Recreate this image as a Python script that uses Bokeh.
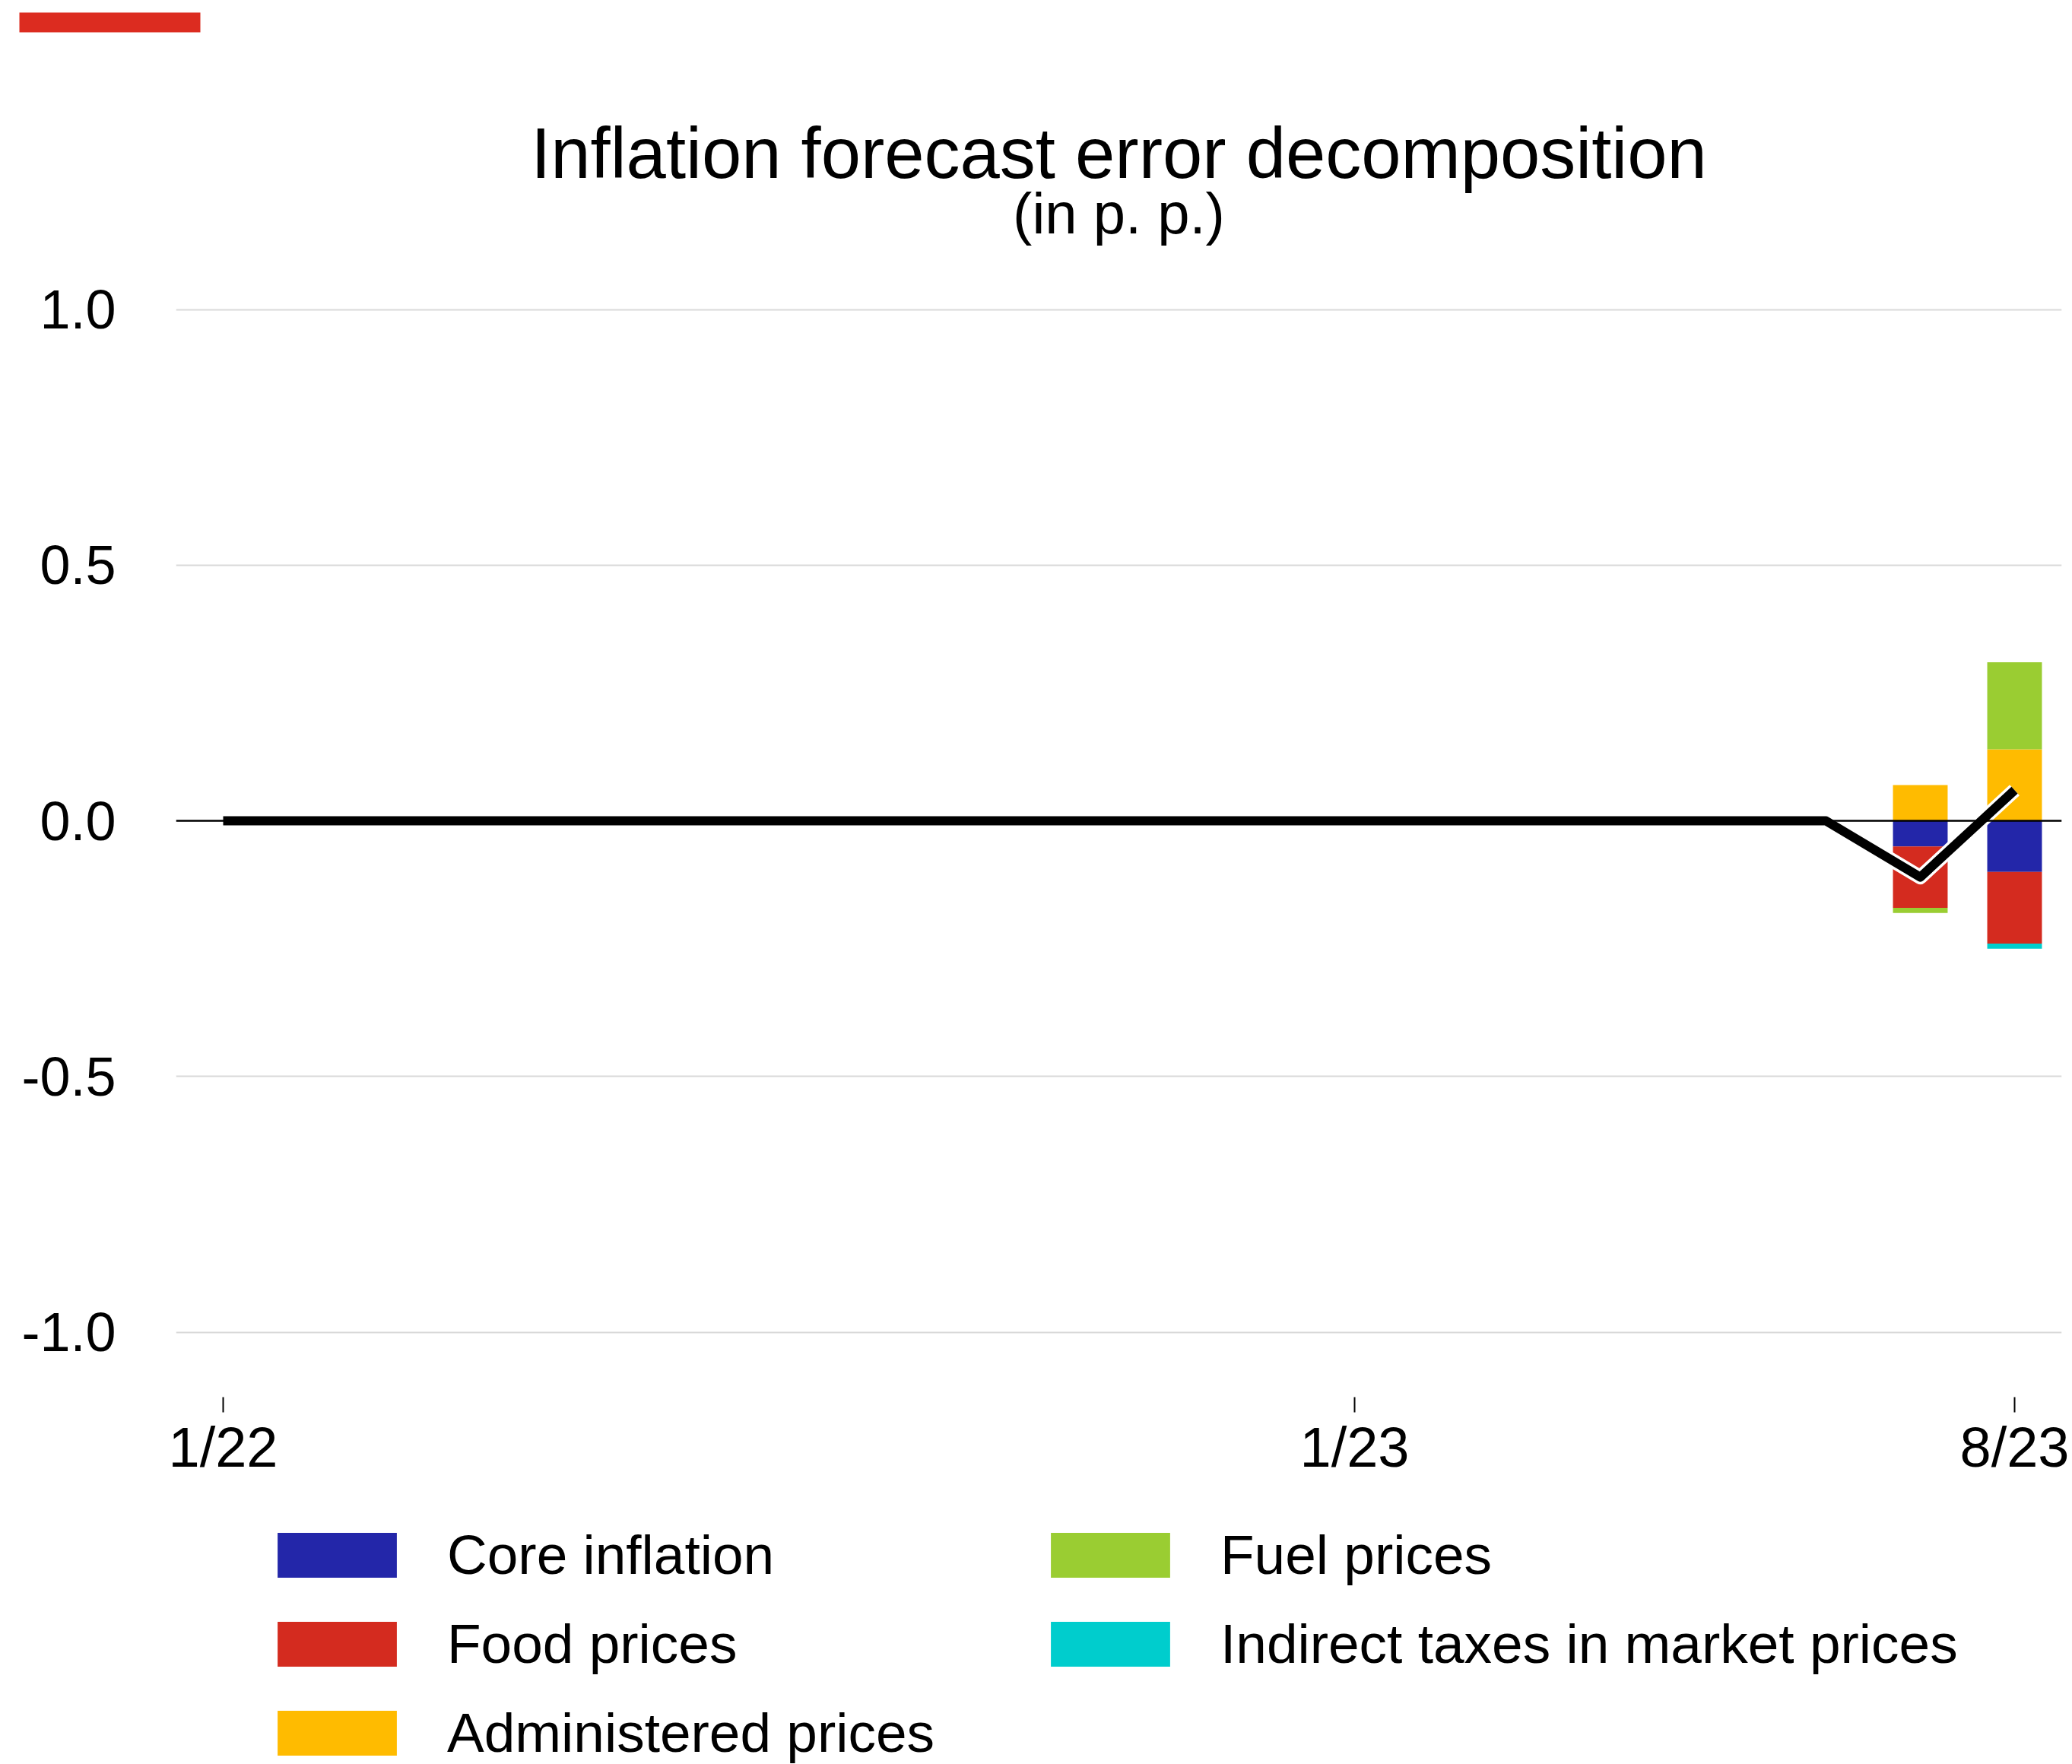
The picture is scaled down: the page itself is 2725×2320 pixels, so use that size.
import numpy as np
from bokeh.plotting import figure
from bokeh.layouts import column
from bokeh.models import (ColumnDataSource, FixedTicker, Span, Legend, LegendItem, Range1d)
from bokeh.core.properties import value
from bokeh.embed import file_html
from bokeh.resources import INLINE

# ---- data (percentage points) ----
months = ["1/22", "2/22", "3/22", "4/22", "5/22", "6/22", "7/22", "8/22", "9/22", "10/22",
          "11/22", "12/22", "1/23", "2/23", "3/23", "4/23", "5/23", "6/23", "7/23", "8/23"]
core_inflation = [0, 0, 0, 0, 0, 0, 0, 0, 0, 0, 0, 0, 0, 0, 0, 0, 0, 0, -0.05, -0.10]
food_prices = [0, 0, 0, 0, 0, 0, 0, 0, 0, 0, 0, 0, 0, 0, 0, 0, 0, 0, -0.12, -0.14]
administered_prices = [0, 0, 0, 0, 0, 0, 0, 0, 0, 0, 0, 0, 0, 0, 0, 0, 0, 0, 0.07, 0.14]
fuel_prices = [0, 0, 0, 0, 0, 0, 0, 0, 0, 0, 0, 0, 0, 0, 0, 0, 0, 0, -0.01, 0.17]
indirect_taxes = [0, 0, 0, 0, 0, 0, 0, 0, 0, 0, 0, 0, 0, 0, 0, 0, 0, 0, 0.0, -0.01]
forecast_error = [0, 0, 0, 0, 0, 0, 0, 0, 0, 0, 0, 0, 0, 0, 0, 0, 0, 0, -0.11, 0.06]

series_names = ["Core inflation", "Food prices", "Administered prices",
                "Fuel prices", "Indirect taxes in market prices"]
series_values = [core_inflation, food_prices, administered_prices, fuel_prices, indirect_taxes]
series_colors = ["#2326a9", "#d42b1f", "#ffbb00", "#9acd32", "#00cdcd"]

x_tick_labels = ["1/22", "1/23", "8/23"]
y_ticks = [-1.0, -0.5, 0.0, 0.5, 1.0]

TITLE = "Inflation forecast error decomposition"
SUBTITLE = "(in p. p.)"

# ---- page geometry (pixels) ----
W = 2725
HEADER_H = 340
MAIN_H = 1650
FOOTER_H = 330
FRAME_LEFT, FRAME_RIGHT, FRAME_BOTTOM = 231, 2711, 1497   # main plot frame, main-canvas pixels
SANS = "Liberation Sans"


def blank(height, **kw):
    f = figure(width=W, height=height, output_backend="svg", toolbar_location=None,
               x_axis_type=None, y_axis_type=None, **kw)
    f.outline_line_color = None
    f.xgrid.grid_line_color = None
    f.ygrid.grid_line_color = None
    f.frame_align = False
    return f


# ---- header: accent bar, title, subtitle (pixel coordinates, y downward) ----
header = blank(HEADER_H, x_range=Range1d(0, W), y_range=Range1d(HEADER_H, 0),
               min_border=0)
header.quad(left=[25], right=[263], top=[16], bottom=[42],
            fill_color="#dc2c20", line_color=None)
header.text(x=[(FRAME_LEFT + FRAME_RIGHT) / 2] * 2, y=[201, 280], text=[TITLE, SUBTITLE],
            text_font=value(SANS), text_font_size=["94px", "76px"],
            text_align="center", text_baseline="middle", text_color="black")

# ---- main chart ----
x_idx = np.arange(len(months))
p = figure(width=W, height=MAIN_H, output_backend="svg", toolbar_location=None,
           x_range=Range1d(-0.5, len(months) - 0.5), y_range=Range1d(-1.127, 1.099),
           min_border_left=FRAME_LEFT, min_border_right=W - FRAME_RIGHT,
           min_border_top=0, min_border_bottom=MAIN_H - FRAME_BOTTOM)
p.outline_line_color = None
p.frame_align = False

p.xaxis.ticker = FixedTicker(ticks=[months.index(m) for m in x_tick_labels])
p.xaxis.major_label_overrides = {months.index(m): m for m in x_tick_labels}
p.xaxis.axis_line_color = None
p.xaxis.major_tick_in = 0
p.xaxis.major_tick_out = 20
p.xaxis.major_tick_line_width = 2
p.xaxis.major_tick_line_color = "black"
p.xaxis.minor_tick_line_color = None
p.xaxis.major_label_standoff = 4
p.xaxis.major_label_text_font = SANS
p.xaxis.major_label_text_font_size = "74px"
p.xaxis.major_label_text_color = "black"

p.yaxis.ticker = FixedTicker(ticks=y_ticks)
p.yaxis.major_label_overrides = {t: f"{t:.1f}" for t in y_ticks}
p.yaxis.axis_line_color = None
p.yaxis.major_tick_line_color = None
p.yaxis.minor_tick_line_color = None
p.yaxis.major_tick_out = 0
p.yaxis.major_tick_in = 0
p.yaxis.major_label_standoff = 79
p.yaxis.major_label_text_font = SANS
p.yaxis.major_label_text_font_size = "72px"
p.yaxis.major_label_text_color = "black"

p.xgrid.grid_line_color = None
p.ygrid.ticker = FixedTicker(ticks=y_ticks)
p.ygrid.grid_line_color = "#d9d9d9"
p.ygrid.grid_line_width = 2

p.add_layout(Span(location=0, dimension="width", line_color="black", line_width=2.5))

# stacked bars: positive parts stack upward, negative parts downward
pos_base = np.zeros(len(months))
neg_base = np.zeros(len(months))
for name, vals, color in zip(series_names, series_values, series_colors):
    v = np.array(vals, dtype=float)
    bottom = np.where(v >= 0, pos_base, neg_base)
    top = bottom + v
    pos_base = np.where(v >= 0, top, pos_base)
    neg_base = np.where(v < 0, top, neg_base)
    keep = v != 0
    src = ColumnDataSource(dict(x=x_idx[keep], bottom=bottom[keep], top=top[keep]))
    p.vbar(x="x", bottom="bottom", top="top", width=0.58, source=src,
           fill_color=color, line_color=None)

# total forecast error, black line with a white halo
p.line(x_idx, forecast_error, line_color="white", line_width=19, line_join="round")
p.line(x_idx, forecast_error, line_color="black", line_width=12, line_join="round")

# ---- footer: two-column legend ----
# area-glyph legend swatches are drawn inset by 10% of the glyph box on each side
GLYPH_W, GLYPH_H = 196, 74
LEG_MARGIN = 13
GLYPH_LEFT = 345
footer = blank(FOOTER_H, x_range=Range1d(0, 1), y_range=Range1d(0, 1),
               min_border_left=GLYPH_LEFT - LEG_MARGIN, min_border_right=0,
               min_border_top=0, min_border_bottom=0)
items = []
for name, color in zip(series_names, series_colors):
    # swatch renderers sit outside the footer's visible range; only their legend entry shows
    r = footer.vbar(x=[-10], top=[0], bottom=[0], width=1, fill_color=color, line_color=None)
    items.append(LegendItem(label=name, renderers=[r]))
legend = Legend(items=items, orientation="vertical", nrows=3, location="top_left",
                glyph_width=GLYPH_W, glyph_height=GLYPH_H, label_standoff=47,
                label_height=59, label_width=1017 - GLYPH_W - 47 - 34, spacing=34,
                padding=0, margin=LEG_MARGIN, border_line_color=None,
                background_fill_alpha=0,
                label_text_font=SANS, label_text_font_size="73px",
                label_text_color="black")
footer.add_layout(legend, "center")

page = column(header, p, footer, spacing=0)
open("out.html", "w").write(file_html(page, INLINE))
